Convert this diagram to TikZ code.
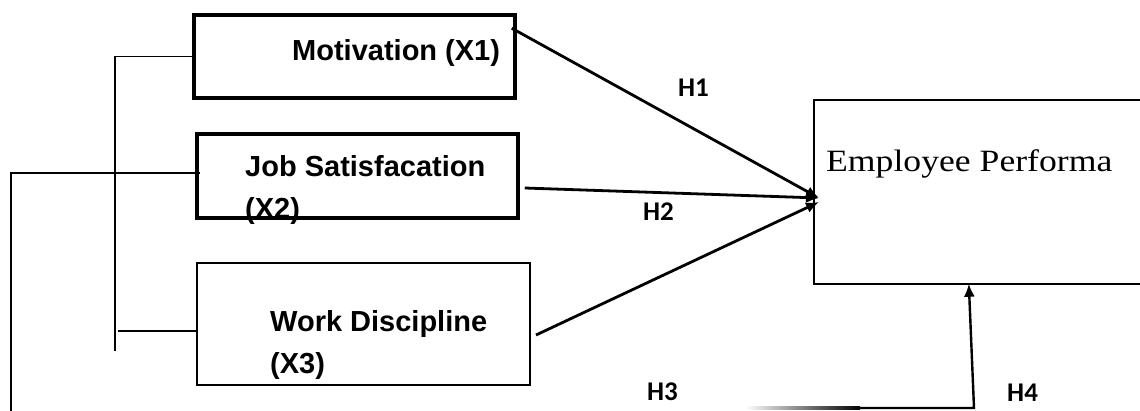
\documentclass[tikz,border=0pt]{standalone}
\usepackage{fontspec}
\setmainfont{Liberation Serif}
\newfontfamily\boxfont{Liberation Sans}
\newfontfamily\hfont{Carlito}
\newfontfamily\perffont[FakeStretch=1.15]{Liberation Serif}
\usepackage{tikz}
\usetikzlibrary{calc, arrows.meta}
\tikzset{>={Latex[length=13pt,width=11pt]}}

\begin{document}
\begin{tikzpicture}[x=1pt, y=-1pt,
    varbox/.style={draw,rectangle,inner sep=0pt},
    boxtext/.style={anchor=base west,inner sep=0pt,font=\boxfont\bfseries\fontsize{29}{42}\selectfont,align=left},
    hlabel/.style={anchor=base west,inner sep=0pt,font=\hfont\bfseries\fontsize{27}{30}\selectfont},
    link/.style={->,line width=2.8pt},
    bracket/.style={line width=1.2pt}
  ]

  \useasboundingbox (0,0) rectangle (1140,410);

    % independent variables
    \node[varbox,line width=3.5pt,minimum width=321pt,minimum height=83pt] (mot) at (354.5,56.5) {};
    \node[varbox,line width=3.5pt,minimum width=321pt,minimum height=84pt] (job) at (357.5,176) {};
    \node[varbox,line width=2pt,minimum width=333pt,minimum height=122pt] (work) at (363.5,324) {};

    \node[boxtext] (mottxt) at (292,60) {Motivation (X1)};
    \node[boxtext] (jobtxt) at (245,218) {Job Satisfacation\\(X2)};
    \node[boxtext] (worktxt) at (270,373) {Work Discipline\\(X3)};

    % dependent variable, open on the right
    \node[rectangle,inner sep=0pt,minimum width=330pt,minimum height=183pt] (perf) at (979,192) {};
    \draw[line width=2pt] (perf.north east) -- (perf.north west) -- (perf.south west) -- (perf.south east);
    \node[anchor=base west,inner sep=0pt,font=\perffont\fontsize{31}{35}\selectfont] (perftxt) at (826,171) {Employee Performa};

    \coordinate (hit) at (819,198);
    \coordinate (hitlow) at (819,202);

    % hypotheses
    \draw[link] ($(mot.north east)+(-5,15)$) -- (hit);
    \draw[link] ($(job.east)+(5,12)$) -- (hit);
    \draw[link] ($(work.east)+(5,11)$) -- (hitlow);

    \coordinate (h4start) at (860,408);
    \coordinate (h4corner) at (974,408);
    \shade[left color=white,right color=black] (745,406.8) rectangle (860,409.2);
    \draw[line width=2.4pt,->] (h4start) -- (h4corner) -- ($(perf.south west)+(155,0)$);

    \node[hlabel] (h1) at (678,96) {H1};
    \node[hlabel] (h2) at (643,220) {H2};
    \node[hlabel] (h3) at (647,400) {H3};
    \node[hlabel] (h4) at (1007,401) {H4};

    % brackets on the left
    \draw[bracket] (mot.west) -| (115,351);
    \draw[bracket] ($(work.west)+(0,7)$) -- ++(-78,0);
    \draw[bracket] ($(job.west)+(5,-3)$) -| (11,412);

\end{tikzpicture}
\end{document}
